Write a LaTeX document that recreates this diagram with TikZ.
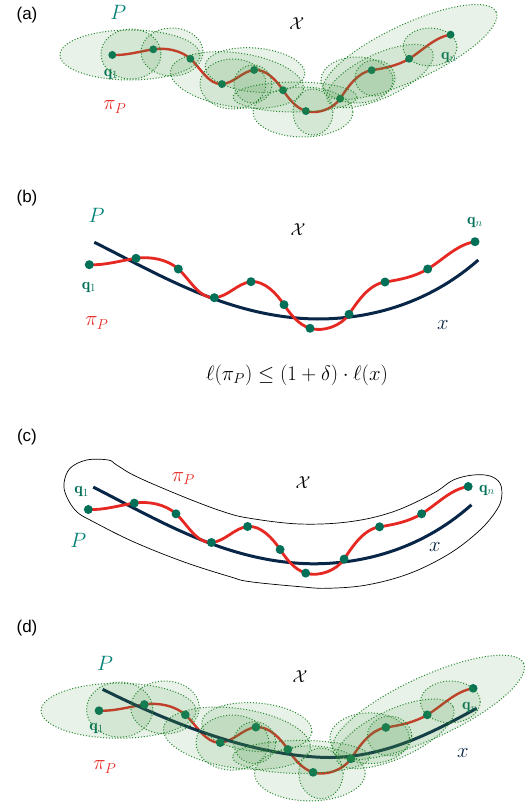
\documentclass[tikz,border=0pt]{standalone}
\usepackage{fontspec}
\newfontfamily\labfont{Liberation Sans}
\definecolor{dotcol}{RGB}{0,112,88}
\definecolor{labteal}{RGB}{0,130,120}
\definecolor{redc}{RGB}{230,40,35}
\definecolor{navy}{RGB}{8,38,72}
\definecolor{ellline}{RGB}{35,135,45}
\definecolor{ellfill}{RGB}{70,150,70}
\tikzset{
  redline/.style={draw=redc, line width=2.8pt},
  blueline/.style={draw=navy, line width=3pt},
  blob/.style={draw=ellline, line width=1pt, dash pattern=on 1pt off 1.9pt, fill=ellfill, fill opacity=0.12},
  dotfill/.style={fill=dotcol},
  panellab/.style={inner sep=0pt, font=\labfont\fontsize{17}{20}\selectfont},
  Plab/.style={inner sep=0pt, text=labteal, font=\fontsize{21}{25}\selectfont},
  Xlab/.style={inner sep=0pt, font=\fontsize{19}{23}\selectfont},
  pilab/.style={inner sep=0pt, text=redc, font=\fontsize{21}{25}\selectfont},
  qlab/.style={inner sep=0pt, text=dotcol, font=\fontsize{16}{19}\selectfont},
  xlab/.style={inner sep=0pt, text=navy, font=\fontsize{21}{25}\selectfont},
  formlab/.style={inner sep=0pt, font=\fontsize{22}{26}\selectfont}
}
\newcommand{\myRedCurve}{%
  \draw[redline] (89.3,264.7) .. controls (105.0,265.5) and (120.5,260.6) .. (136,258.3)
    .. controls (150.3,256.2) and (167.5,259.3) .. (178.3,269)
    .. controls (189.7,279.2) and (199.0,298.5) .. (214.3,297.7)
    .. controls (227.6,297.0) and (237.8,283.0) .. (251,281.7)
    .. controls (264.3,280.4) and (276.6,293.6) .. (284,304.7)
    .. controls (290.5,314.4) and (298.8,324.9) .. (310,328.3)
    .. controls (323.2,332.3) and (341.3,325.8) .. (349,314.3)
    .. controls (357.9,300.9) and (369.1,284.4) .. (385,282)
    .. controls (399.7,279.8) and (414.9,276.7) .. (427.7,269)
    .. controls (443.3,259.6) and (457,244.4) .. (475,241.7);}
\newcommand{\myRedDots}{%
  \foreach \px/\py in {89.3/264.7,136/258.3,178.3/269,214.3/297.7,251/281.7,284/304.7,310/328.3,349/314.3,385/282,427.7/269,475/241.7}{
    \fill[dotfill] (\px,\py) circle[radius=4.5];}}
\newcommand{\myBlueCurve}{%
  \draw[blueline] (94.3,242.3) .. controls (160,275) and (230,318) .. (317,319)
    .. controls (380,319) and (435,298) .. (478.3,260);}
\newcommand{\myBlobs}{%
  \foreach \cx/\cy/\rx/\ry/\ang in {130/55/70/25/0, 131/54/30/25/0, 172/52/31/24/0, 237/80/67/27/-8, 255/70/50/22/-5, 233/84/33/25/0, 253/84/19/19/0, 295/97/62/15/0, 303/112/50/25/0, 313/112/20/23/0, 357/80/36/23/0, 380/76/58/22/25, 375/78/20/18/0, 410/52/95/28/25, 430/47/27/19/0}{
    \path[blob, rotate around={\ang:(\cx,\cy)}] (\cx,\cy) ellipse [x radius=\rx, y radius=\ry];}}
\begin{document}
\begin{tikzpicture}[x=1pt,y=-1pt]
\useasboundingbox (0,0) rectangle (526,803);
\fill[white] (0,0) rectangle (526,803);

% ---------------- (a)
\node[panellab] (la) at (27,15) {(a)};
\begin{scope}[xshift=34pt, yshift=178.5pt, xscale=0.877, yscale=0.882, redline/.style={draw=redc, line width=2.4pt}]
  \myRedCurve
  \myRedDots
\end{scope}
\node[qlab] (aq1) at (111,74) {$\mathbf{q}_1$};
\node[qlab] (aqn) at (449,57) {$\mathbf{q}_n$};
\myBlobs
\node[Plab] (aP) at (118.3,12) {$P$};
\node[Xlab] (aX) at (296.7,24) {$\mathcal{X}$};
\node[pilab] (api) at (115,107) {$\pi_P$};

% ---------------- (b)
\node[panellab] (lb) at (27,198) {(b)};
\myBlueCurve
\myRedCurve
\myRedDots
\node[Plab] (bP) at (96.7,215) {$P$};
\node[Xlab] (bX) at (298,230) {$\mathcal{X}$};
\node[qlab] (bqn) at (475,222) {$\mathbf{q}_n$};
\node[qlab] (bq1) at (89,287) {$\mathbf{q}_1$};
\node[pilab] (bpi) at (97,323) {$\pi_P$};
\node[xlab] (bx) at (443,325) {$x$};
\node[formlab] (form) at (297,375) {$\ell(\pi_P) \le (1+\delta)\cdot \ell(x)$};

% ---------------- (c)
\node[panellab] (lc) at (27,437) {(c)};
\draw[black, line width=0.7pt] plot[smooth cycle, tension=0.6] coordinates {
  (64,483.3) (70,468.3) (86.7,460) (108.3,460) (116.7,465) (136.7,476.7) (183.3,496.7) (223.3,511.7) (250,518.3) (300,524) (350,521.7) (393.3,511.7) (433.3,493.3) (453.3,480) (473.3,475) (490,476) (500,483.3) (501.7,496.7) (496.7,510) (480,530) (450,553.3) (410,573.3) (366.7,585) (326.7,588.3) (300,586.7) (250,581.7) (230,576.7) (183.3,561.7) (133.3,541.7) (93.3,521.7) (76.7,511.7) (66.7,496.7)};
\begin{scope}[xshift=0.34pt, yshift=-244.8pt, xscale=0.985]
  \myBlueCurve
  \myRedCurve
  \myRedDots
\end{scope}
\node[pilab] (cpi) at (183.3,478.3) {$\pi_P$};
\node[Xlab] (cX) at (303,483) {$\mathcal{X}$};
\node[qlab] (cq1) at (81.7,491.7) {$\mathbf{q}_1$};
\node[qlab] (cqn) at (487,490) {$\mathbf{q}_n$};
\node[Plab] (cP) at (78.3,540) {$P$};
\node[xlab] (cx) at (435,546.7) {$x$};

% ---------------- (d)
\node[panellab] (ld) at (27,628) {(d)};
\begin{scope}[xshift=12.4pt, yshift=-453.9pt, scale=0.97, redline/.style={draw=redc, line width=2.4pt}]
  \myRedCurve
\end{scope}
\draw[blueline] (102.7,689.3) .. controls (160,718) and (250,757) .. (330,757.5)
  .. controls (390,757) and (440,728) .. (476.7,708.3);
\begin{scope}[xshift=12.4pt, yshift=-453.9pt, scale=0.97]
  \myRedDots
\end{scope}
\node[qlab] (dq1) at (96.7,728) {$\mathbf{q}_1$};
\node[qlab] (dqn) at (470,707) {$\mathbf{q}_n$};
\begin{scope}[xshift=-25.2pt, yshift=-650.2pt, xscale=1.106, yscale=1.1]
  \myBlobs
\end{scope}
\node[Plab] (dP) at (105,663) {$P$};
\node[Xlab] (dX) at (300,677) {$\mathcal{X}$};
\node[pilab] (dpi) at (105,767) {$\pi_P$};
\node[xlab] (dx) at (463,753) {$x$};
\end{tikzpicture}
\end{document}
